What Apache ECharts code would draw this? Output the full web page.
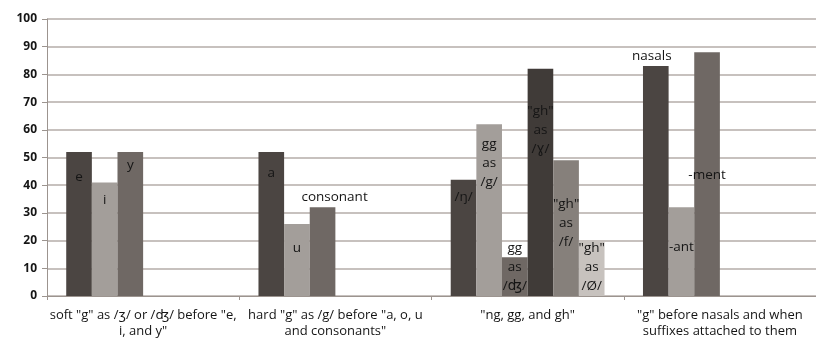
<!DOCTYPE html>
<html>
<head>
<meta charset="utf-8">
<script src="https://cdn.jsdelivr.net/npm/echarts@6/dist/echarts.min.js"></script>
<style>html,body{margin:0;padding:0;background:#fff}#c{width:816px;height:340px}</style>
</head>
<body>
<div id="c"></div>
<script>
var categories = [
  'soft "g" as /ʒ/ or /ʤ/ before "e,\ni, and y"',
  'hard "g" as /g/ before "a, o, u\nand consonants"',
  '"ng, gg, and gh"',
  '"g" before nasals and when\nsuffixes attached to them'
];
var yTicks = [0, 10, 20, 30, 40, 50, 60, 70, 80, 90, 100];

var s1Values = [52, 52, 42, 83];
var s2Values = [41, 26, 62, 32];
var s3Values = [52, 32, 14, 88];
var s4Values = [null, null, 82, null];
var s5Values = [null, null, 49, null];
var s6Values = [null, null, 20, null];

var s1Labels = ['e', 'a', '/ŋ/', 'nasals'];
var s2Labels = ['i', 'u', 'gg\nas\n/g/', '-ant'];
var s3Labels = ['y', 'consonant', 'gg\nas\n/ʤ/', '-ment'];
var s4Labels = ['', '', '"gh"\nas\n/ɣ/', ''];
var s5Labels = ['', '', '"gh"\nas\n/f/', ''];
var s6Labels = ['', '', '"gh"\nas\n/Ø/', ''];

// label placement (style): [dx from bar centre, dy from bar top to text centre]
var labelPlace = [
  [[0,25],[0,21],[0,17],[-4,-10]],
  [[0,18],[0,24],[0,39],[0,40]],
  [[0,13],[12,-10],[0,10],[0,123]],
  [null,null,[0,61],null],
  [null,null,[0,63],null],
  [null,null,[0,27],null]
];
var colors = ['#4b4542', '#a39e9a', '#6f6864', '#403b38', '#86807b', '#c7c2be'];
var FONT = '"Open Sans", "DejaVu Sans", sans-serif';

function build(vals, labels, si) {
  return vals.map(function (v, i) {
    var p = labelPlace[si][i];
    if (v == null) return null;
    return {
      value: v,
      label: {
        show: !!labels[i],
        formatter: labels[i],
        position: ['50%', p[1]],
        offset: [p[0], 0],
        align: 'center',
        verticalAlign: 'middle',
        color: '#151515',
        fontSize: 13.5,
        lineHeight: 19,
        fontFamily: FONT
      }
    };
  });
}
var allVals = [s1Values, s2Values, s3Values, s4Values, s5Values, s6Values];
var allLabels = [s1Labels, s2Labels, s3Labels, s4Labels, s5Labels, s6Labels];
var series = allVals.map(function (vals, si) {
  return {
    type: 'bar',
    data: build(vals, allLabels[si], si),
    barGap: '0%',
    barCategoryGap: '20%',
    itemStyle: { color: colors[si] },
    animation: false
  };
});

var chart = echarts.init(document.getElementById('c'));
chart.setOption({
  animation: false,
  grid: { left: 47, top: 19, bottom: 44, right: -8, containLabel: false },
  xAxis: {
    type: 'category',
    data: categories,
    boundaryGap: true,
    axisLine: { lineStyle: { color: '#9c948f', width: 1 } },
    axisTick: { show: true, length: 4, lineStyle: { color: '#9c948f' } },
    axisLabel: { interval: 0, color: '#151515', fontSize: 13, fontFamily: FONT, lineHeight: 16, margin: 11 }
  },
  yAxis: {
    type: 'value',
    min: yTicks[0],
    max: yTicks[yTicks.length - 1],
    interval: 10,
    axisLine: { show: true, lineStyle: { color: '#9c948f' } },
    axisTick: { show: true, length: 5, lineStyle: { color: '#9c948f' } },
    axisLabel: { color: '#151515', fontSize: 12, fontWeight: 'bold', fontFamily: FONT, margin: 10 },
    splitLine: { lineStyle: { color: '#b5ada8', width: 1.6 } }
  },
  series: series
});
</script>
</body>
</html>
